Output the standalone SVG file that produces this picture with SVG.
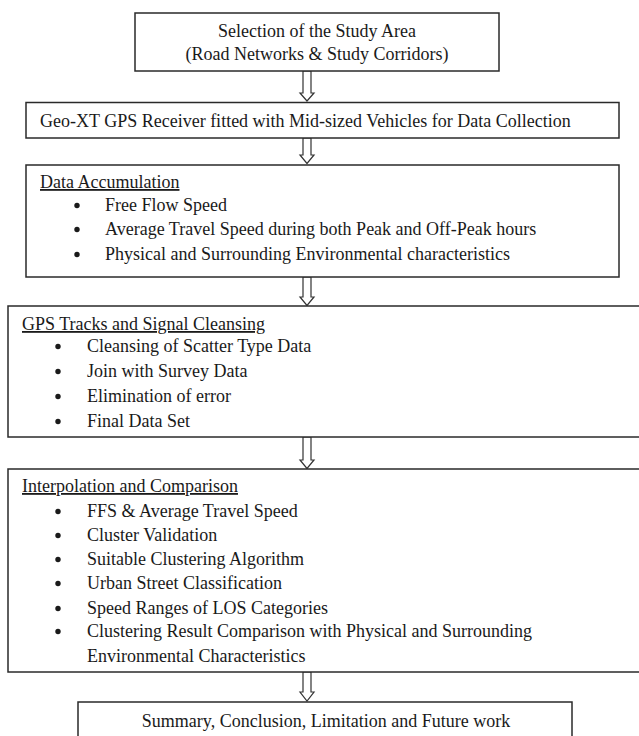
<svg xmlns="http://www.w3.org/2000/svg" width="639" height="736" viewBox="0 0 639 736">
<style>
.box{fill:#fff;stroke:#2a2a2a;stroke-width:1.5}
.t{font-family:"Liberation Serif","Times New Roman",serif;font-size:18px;fill:#1a1a1a}
.c{text-anchor:middle}
.u{text-decoration:underline}
.b{fill:#1a1a1a}
.arr{fill:#fff;stroke:#333;stroke-width:1.2;stroke-linejoin:miter}
</style>
<rect width="639" height="736" fill="#fff"/>
<g id="connectors">
<path class="arr" d="M303,71 H311 V93 H314 L307,101 L300,93 H303 Z"/>
<path class="arr" d="M303,138 H311 V155 H314 L307,163.5 L300,155 H303 Z"/>
<path class="arr" d="M303,277 H311 V297 H314 L307,305.5 L300,297 H303 Z"/>
<path class="arr" d="M303,437 H311 V460 H314 L307,468.5 L300,460 H303 Z"/>
<path class="arr" d="M303,672 H311 V692 H314 L307,701 L300,692 H303 Z"/>
</g>
<g id="n1">
<rect class="box" x="135" y="13" width="364" height="58"/>
<text class="t c" x="317" y="37">Selection of the Study Area</text>
<text class="t c" x="317" y="60">(Road Networks &amp; Study Corridors)</text>
</g>
<g id="n2">
<rect class="box" x="26" y="102.5" width="593" height="35.5"/>
<text class="t" x="40" y="127">Geo-XT GPS Receiver fitted with Mid-sized Vehicles for Data Collection</text>
</g>
<g id="n3">
<rect class="box" x="26" y="165" width="593" height="112"/>
<text class="t u" x="40" y="188">Data Accumulation</text>
<circle class="b" cx="77" cy="205.5" r="2.7"/>
<text class="t" x="105" y="211">Free Flow Speed</text>
<circle class="b" cx="77" cy="229.5" r="2.7"/>
<text class="t" x="105" y="235">Average Travel Speed during both Peak and Off-Peak hours</text>
<circle class="b" cx="77" cy="254.5" r="2.7"/>
<text class="t" x="105" y="260">Physical and Surrounding Environmental characteristics</text>
</g>
<g id="n4">
<rect class="box" x="8" y="306" width="645" height="131"/>
<text class="t u" x="22" y="330">GPS Tracks and Signal Cleansing</text>
<circle class="b" cx="58" cy="346.5" r="2.7"/>
<text class="t" x="87" y="352">Cleansing of Scatter Type Data</text>
<circle class="b" cx="58" cy="371.5" r="2.7"/>
<text class="t" x="87" y="377">Join with Survey Data</text>
<circle class="b" cx="58" cy="396.5" r="2.7"/>
<text class="t" x="87" y="402">Elimination of error</text>
<circle class="b" cx="58" cy="421.5" r="2.7"/>
<text class="t" x="87" y="427">Final Data Set</text>
</g>
<g id="n5">
<rect class="box" x="8" y="469" width="645" height="203"/>
<text class="t u" x="22" y="492">Interpolation and Comparison</text>
<circle class="b" cx="58" cy="511.5" r="2.7"/>
<text class="t" x="87" y="517">FFS &amp; Average Travel Speed</text>
<circle class="b" cx="58" cy="535.5" r="2.7"/>
<text class="t" x="87" y="541">Cluster Validation</text>
<circle class="b" cx="58" cy="559.5" r="2.7"/>
<text class="t" x="87" y="565">Suitable Clustering Algorithm</text>
<circle class="b" cx="58" cy="583.5" r="2.7"/>
<text class="t" x="87" y="589">Urban Street Classification</text>
<circle class="b" cx="58" cy="608.5" r="2.7"/>
<text class="t" x="87" y="614">Speed Ranges of LOS Categories</text>
<circle class="b" cx="58" cy="631.5" r="2.7"/>
<text class="t" x="87" y="637">Clustering Result Comparison with Physical and Surrounding</text>
<text class="t" x="87" y="662">Environmental Characteristics</text>
</g>
<g id="n6">
<rect class="box" x="78" y="702" width="494" height="60"/>
<text class="t c" x="326" y="727">Summary, Conclusion, Limitation and Future work</text>
</g>
</svg>
